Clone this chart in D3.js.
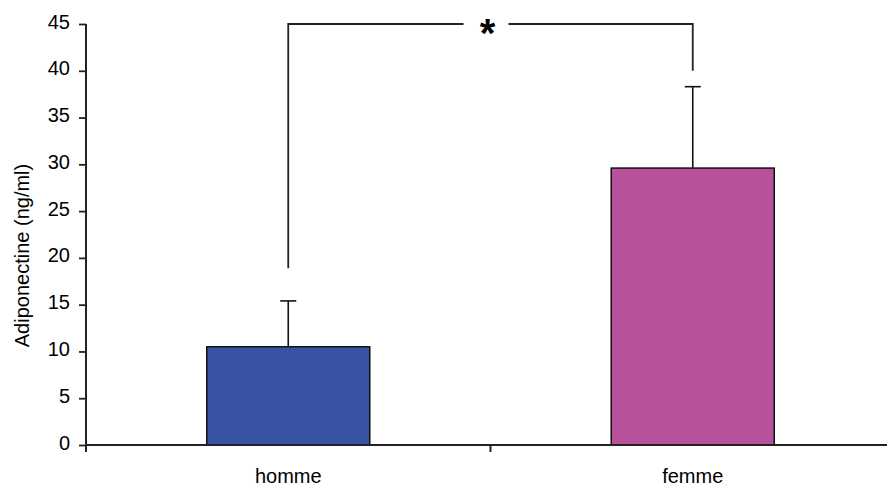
<!DOCTYPE html>
<html>
<head>
<meta charset="utf-8">
<script src="https://cdn.jsdelivr.net/npm/d3@7"></script>
<style>
  html, body { margin: 0; padding: 0; background: #fff; }
  svg { display: block; }
  text { font-family: "Liberation Sans", Arial, sans-serif; fill: #000; }
</style>
</head>
<body>
<svg id="chart" width="887" height="486"></svg>
<script>
// ---- data ----
const categories = ["homme", "femme"];
const means = [10.5, 29.6];
const errors = [4.9, 8.7];
const colors = ["#3953A4", "#B7519B"];
const yTicks = [0, 5, 10, 15, 20, 25, 30, 35, 40, 45];
const yLabel = "Adiponectine (ng/ml)";
// significance bracket: [left end value, right end value, top value]
const bracketEnds = [18.9, 40.0];
const bracketTop = 45;
const sigLabel = "*";

// ---- layout ----
const W = 887, H = 486;
const mLeft = 86, mBottom = 445, mTop = 24, mRight = 895;
const svg = d3.select("#chart");

const y = d3.scaleLinear().domain([0, 45]).range([mBottom, mTop]);
const x = d3.scaleBand().domain(categories).range([mLeft, mRight]).padding(0);
const barW = x.bandwidth() * 0.403;
const cx = c => x(c) + x.bandwidth() / 2;

// bars
svg.selectAll("rect.bar").data(categories).join("rect")
  .attr("class", "bar")
  .attr("x", c => cx(c) - barW / 2)
  .attr("y", (c, i) => y(means[i]))
  .attr("width", barW)
  .attr("height", (c, i) => y(0) - y(means[i]))
  .attr("fill", (c, i) => colors[i])
  .attr("stroke", "#111")
  .attr("stroke-width", 1.5);

// error bars (upper only)
const eb = svg.selectAll("g.err").data(categories).join("g").attr("class", "err");
eb.append("line")
  .attr("x1", c => cx(c)).attr("x2", c => cx(c))
  .attr("y1", (c, i) => y(means[i])).attr("y2", (c, i) => y(means[i] + errors[i]))
  .attr("stroke", "#111").attr("stroke-width", 1.6);
eb.append("line")
  .attr("x1", c => cx(c) - 8).attr("x2", c => cx(c) + 8)
  .attr("y1", (c, i) => y(means[i] + errors[i])).attr("y2", (c, i) => y(means[i] + errors[i]))
  .attr("stroke", "#111").attr("stroke-width", 1.6);

// y axis
const yAxis = d3.axisLeft(y).tickValues(yTicks).tickSize(7).tickPadding(9).tickSizeOuter(0);
const gy = svg.append("g").attr("transform", `translate(${mLeft},0)`).call(yAxis);
gy.select(".domain").remove();
gy.selectAll(".tick line").attr("stroke", "#222").attr("stroke-width", 1.8);
gy.selectAll(".tick text").attr("font-size", "20px").attr("dy", "0.2em")
  .style("font-family", '"Liberation Sans", Arial, sans-serif').attr("fill", "#222");
svg.append("line").attr("x1", mLeft).attr("x2", mLeft)
  .attr("y1", y(45)).attr("y2", mBottom + 7)
  .attr("stroke", "#222").attr("stroke-width", 2);

// x axis
svg.append("line").attr("x1", mLeft).attr("x2", W)
  .attr("y1", mBottom).attr("y2", mBottom)
  .attr("stroke", "#222").attr("stroke-width", 2);
// category boundary ticks
svg.selectAll("line.xtick").data(categories.slice(1)).join("line")
  .attr("class", "xtick")
  .attr("x1", c => x(c)).attr("x2", c => x(c))
  .attr("y1", mBottom).attr("y2", mBottom + 7)
  .attr("stroke", "#222").attr("stroke-width", 2);
svg.selectAll("text.xlab").data(categories).join("text")
  .attr("class", "xlab")
  .attr("x", c => cx(c)).attr("y", 483)
  .attr("text-anchor", "middle").attr("font-size", "20px").attr("fill", "#111")
  .text(c => c);

// y label
svg.append("text")
  .attr("transform", `translate(29,${(158 + 353) / 2}) rotate(-90)`)
  .attr("text-anchor", "middle").attr("font-size", "20px").attr("fill", "#111")
  .text(yLabel);

// significance bracket
const bx1 = cx(categories[0]), bx2 = cx(categories[1]);
const by = y(bracketTop);
const mid = (bx1 + bx2) / 2;
const bracket = svg.append("g").attr("stroke", "#222").attr("stroke-width", 1.8).attr("fill", "none");
bracket.append("path")
  .attr("d", `M${bx1},${y(bracketEnds[0])}V${by}H${mid - 27}`);
bracket.append("path")
  .attr("d", `M${mid + 18},${by}H${bx2}V${y(bracketEnds[1])}`);
svg.append("text")
  .attr("x", mid - 3).attr("y", by + 23)
  .attr("text-anchor", "middle").attr("font-size", "40px").attr("font-weight", "bold")
  .text(sigLabel);
</script>
</body>
</html>
